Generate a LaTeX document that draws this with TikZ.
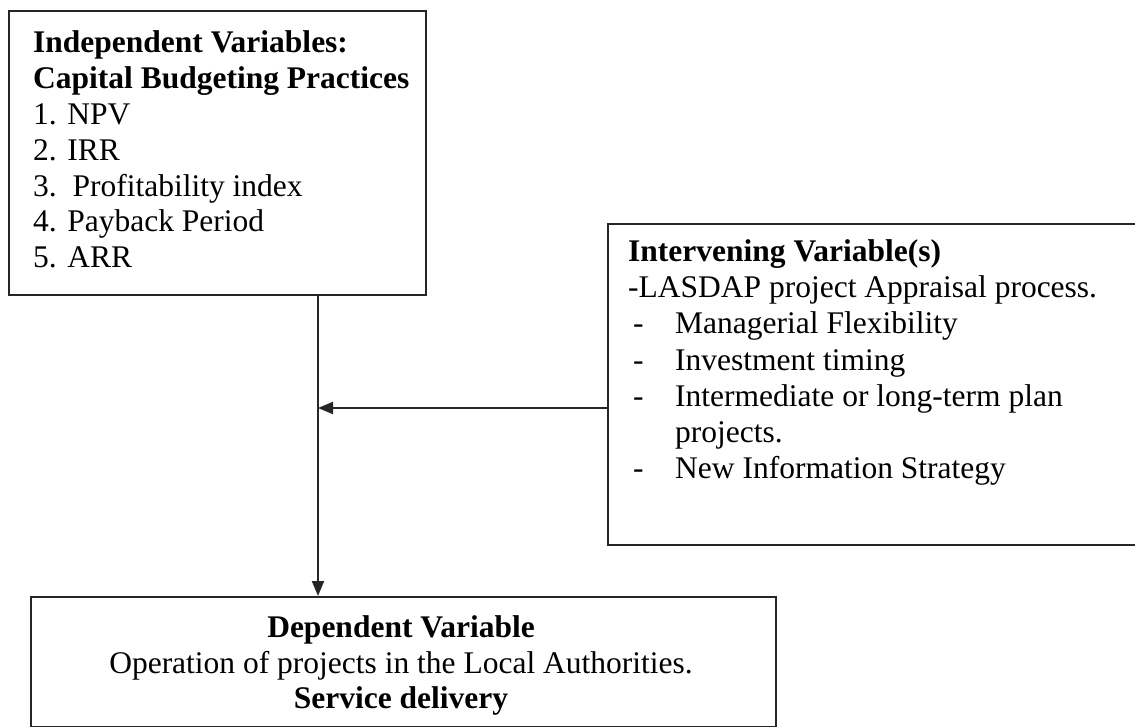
\documentclass[tikz,border=0pt]{standalone}
\usepackage{fontspec}
\setmainfont{Liberation Serif}
\usetikzlibrary{arrows.meta}
\begin{document}
\begin{tikzpicture}[x=1pt,y=-1pt,
  every node/.style={font=\fontsize{31.5}{36}\selectfont, inner sep=0pt},
  box/.style={draw=black!85, line width=2pt, rectangle, inner sep=0pt},
  ln/.style={anchor=base west},
  cl/.style={anchor=base},
  conn/.style={draw=black!85, line width=2pt, -{Triangle[length=15pt,width=12pt]}}]
\useasboundingbox (0,0) rectangle (1135,727);
\clip (0,0) rectangle (1135,727);
% boxes
\node[box, minimum width=417pt, minimum height=284pt, anchor=north west] (b1) at (8,10) {};
\node[box, minimum width=535pt, minimum height=321pt, anchor=north west] (b2) at (607,223) {};
\node[box, minimum width=745pt, minimum height=130pt, anchor=north west] (b3) at (30,596) {};
% box 1 text
\node[ln] (t11) at (33,53) {\textbf{Independent Variables:}};
\node[ln] (t12) at (33,88.8) {\textbf{Capital Budgeting Practices}};
\node[ln] (t13) at (33,124.6) {1. NPV};
\node[ln] (t14) at (33,160.4) {2. IRR};
\node[ln] (t15) at (33,196.2) {3.\ \ Profitability index};
\node[ln] (t16) at (33,232) {4. Payback Period};
\node[ln] (t17) at (33,267.8) {5. ARR};
% box 2 text
\node[ln] (t21) at (628,262) {\textbf{Intervening Variable(s)}};
\node[ln] (t22) at (628,298) {-LASDAP project Appraisal process.};
\node[ln] (d1) at (633,334) {-};
\node[ln] (t23) at (675,334) {Managerial Flexibility};
\node[ln] (d2) at (633,370) {-};
\node[ln] (t24) at (675,370) {Investment timing};
\node[ln] (d3) at (633,406) {-};
\node[ln] (t25) at (675,406) {Intermediate or long-term plan};
\node[ln] (t26) at (675,442) {projects.};
\node[ln] (d4) at (633,478) {-};
\node[ln] (t27) at (675,478) {New Information Strategy};
% box 3 text
\node[cl] (t31) at (401,637) {\textbf{Dependent Variable}};
\node[cl] (t32) at (401,673) {Operation of projects in the Local Authorities.};
\node[cl] (t33) at (401,708) {\textbf{Service delivery}};
% connectors
\coordinate (top) at (318,294);
\coordinate (bot) at (318,596);
\coordinate (mid) at (318,408);
\coordinate (from) at (607,408);
\draw[conn] (b1.south -| top) -- (b3.north -| bot);
\draw[conn] (b2.west |- from) -- (mid);
\end{tikzpicture}
\end{document}
